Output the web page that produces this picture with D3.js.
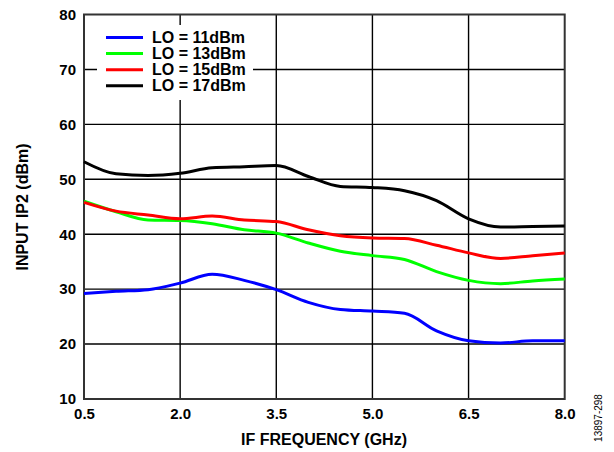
<!DOCTYPE html>
<html><head><meta charset="utf-8">
<script src="https://cdn.jsdelivr.net/npm/d3@7"></script>
<style>body{margin:0;background:#fff;} svg{display:block;}</style>
</head><body>
<svg id="c" width="614" height="452"></svg>
<script>
const freq = [0.5,1.0,1.5,2.0,2.5,3.0,3.5,4.0,4.5,5.0,5.5,6.0,6.5,7.0,7.5,8.0];
const lo11 = [29.2,29.6,29.9,31.1,32.7,31.6,29.9,27.6,26.3,26.0,25.6,22.4,20.6,20.2,20.6,20.6];
const lo13 = [46.0,44.1,42.6,42.5,41.9,40.8,40.2,38.4,36.9,36.1,35.4,33.2,31.6,31.0,31.5,31.85];
const lo15 = [45.8,44.2,43.5,42.8,43.3,42.6,42.3,40.8,39.7,39.3,39.2,38.0,36.6,35.6,36.1,36.6];
const lo17 = [53.2,51.0,50.7,51.1,52.1,52.3,52.5,50.5,48.7,48.5,47.9,46.1,42.8,41.3,41.4,41.5];
const seriesNames = ["LO = 11dBm","LO = 13dBm","LO = 15dBm","LO = 17dBm"];
const seriesColors = ["#0000ff","#00ff00","#ff0000","#000000"];
const xTicks = [0.5,2.0,3.5,5.0,6.5,8.0];
const yTicks = [10,20,30,40,50,60,70,80];

const svg = d3.select("#c");
const L=84, R=564.7, T=14.5, B=399;
const x = d3.scaleLinear().domain([0.5,8.0]).range([L,R]);
const y = d3.scaleLinear().domain([10,80]).range([B,T]);
const font = "'Liberation Sans', Arial, sans-serif";

// grid
const g = svg.append("g");
g.selectAll(".vx").data(xTicks.slice(1,-1)).join("line")
  .attr("x1",d=>x(d)).attr("x2",d=>x(d)).attr("y1",T).attr("y2",B)
  .attr("stroke","#000").attr("stroke-width",1.4);
g.selectAll(".hy").data(yTicks.slice(1,-1)).join("line")
  .attr("x1",L).attr("x2",R).attr("y1",d=>y(d)).attr("y2",d=>y(d))
  .attr("stroke","#000").attr("stroke-width",1.4);

// legend background
svg.append("rect").attr("x",97).attr("y",25).attr("width",156).attr("height",75).attr("fill","#fff");

// frame
svg.append("rect").attr("x",L).attr("y",T).attr("width",R-L).attr("height",B-T)
  .attr("fill","none").attr("stroke","#333").attr("stroke-width",2);

// axes labels via d3 axes
const xAxis = d3.axisBottom(x).tickValues(xTicks).tickFormat(d3.format(".1f")).tickSize(0).tickPadding(9);
const xa = svg.append("g").attr("transform",`translate(0,${B})`).call(xAxis);
xa.select(".domain").remove();
xa.selectAll("text").attr("font-family",font).attr("font-weight","bold").attr("font-size",15).attr("fill","#000");
const yAxis = d3.axisLeft(y).tickValues(yTicks).tickFormat(d3.format("d")).tickSize(0).tickPadding(8);
const ya = svg.append("g").attr("transform",`translate(${L},0)`).call(yAxis);
ya.select(".domain").remove();
ya.selectAll("text").attr("font-family",font).attr("font-weight","bold").attr("font-size",15).attr("fill","#000");

// lines
const all = [lo11,lo13,lo15,lo17];
const line = d3.line().x((d,i)=>x(freq[i])).y(d=>y(d)).curve(d3.curveMonotoneX);
all.forEach((s,k)=>{
  svg.append("path").attr("d",line(s)).attr("fill","none")
    .attr("stroke",seriesColors[k]).attr("stroke-width",3).attr("stroke-linejoin","round");
});

// legend
const lg = svg.append("g");
seriesNames.forEach((n,k)=>{
  const yy = 37.5 + k*16.1;
  lg.append("line").attr("x1",106).attr("x2",143).attr("y1",yy).attr("y2",yy)
    .attr("stroke",seriesColors[k]).attr("stroke-width",3);
  lg.append("text").attr("x",152).attr("y",yy).attr("dy","0.35em").text(n)
    .attr("font-family",font).attr("font-weight","bold").attr("font-size",16).attr("fill","#000");
});

// titles
svg.append("text").attr("x",324).attr("y",439).attr("dy","0.35em").attr("text-anchor","middle")
  .text("IF FREQUENCY (GHz)").attr("font-family",font).attr("font-weight","bold").attr("font-size",16);
svg.append("text").attr("transform","translate(22,207) rotate(-90)").attr("dy","0.35em").attr("text-anchor","middle")
  .text("INPUT IP2 (dBm)").attr("font-family",font).attr("font-weight","bold").attr("font-size",16);
svg.append("text").attr("transform","translate(598,418) rotate(-90)").attr("dy","0.35em").attr("text-anchor","middle")
  .text("13897-298").attr("font-family",font).attr("font-size",10);
</script>
</body></html>
